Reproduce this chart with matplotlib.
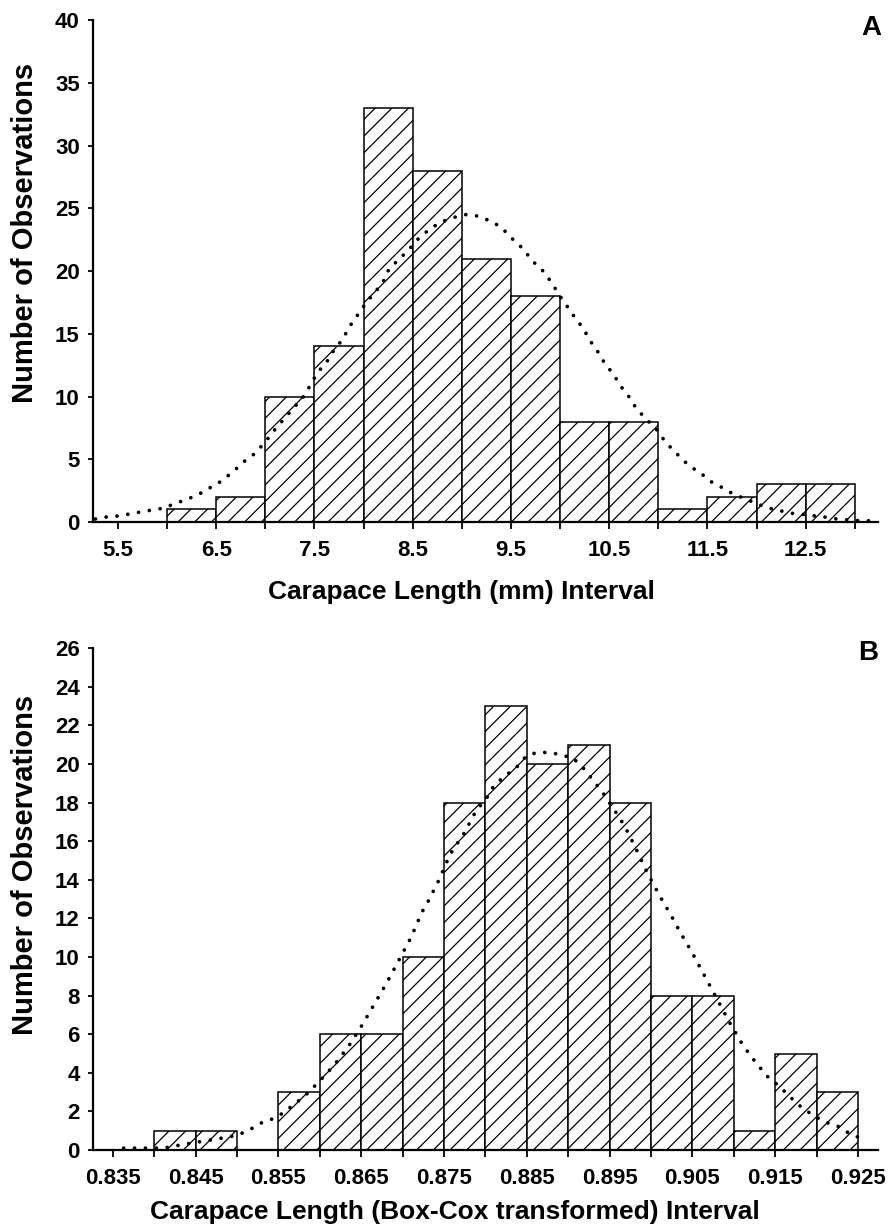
import matplotlib.pyplot as plt
from matplotlib.ticker import MultipleLocator, FixedLocator

plt.rcParams['font.family'] = ['Liberation Sans', 'DejaVu Sans']
plt.rcParams['font.weight'] = 'bold'
plt.rcParams['hatch.linewidth'] = 0.9
plt.rcParams['hatch.color'] = '#333333'

# Panel A - carapace length (mm), 0.5 mm classes
a_left = [6.0, 6.5, 7.0, 7.5, 8.0, 8.5, 9.0, 9.5, 10.0, 10.5, 11.0, 11.5, 12.0, 12.5]
a_counts = [1, 2, 10, 14, 33, 28, 21, 18, 8, 8, 1, 2, 3, 3]
a_ticklabels = ['5.5', '6.5', '7.5', '8.5', '9.5', '10.5', '11.5', '12.5']
# fitted normal curve
a_curve_x = [5.27, 5.38, 5.5, 5.62, 5.73, 5.85, 5.96, 6.09, 6.2, 6.32, 6.43, 6.54, 6.67,
             6.78, 6.9, 7.01, 7.1, 7.2, 7.3, 7.4, 7.47, 7.54, 7.62, 7.69, 7.79, 7.85,
             7.93, 8.01, 8.1, 8.19, 8.26, 8.37, 8.47, 8.57, 8.7, 8.82, 8.93, 9.04, 9.15,
             9.29, 9.4, 9.51, 9.62, 9.72, 9.84, 9.92, 9.99, 10.08, 10.15, 10.23, 10.31,
             10.39, 10.45, 10.54, 10.62, 10.7, 10.78, 10.89, 10.99, 11.07, 11.18, 11.31,
             11.43, 11.54, 11.66, 11.77, 11.9, 12.02, 12.13, 12.24, 12.35, 12.48, 12.58,
             12.69, 12.82, 12.94, 13.07, 13.17]
a_curve_y = [0.24, 0.4, 0.48, 0.64, 0.8, 0.96, 1.1, 1.5, 1.8, 2.2, 2.7, 3.2, 4.0,
             4.8, 5.5, 6.5, 7.4, 8.3, 9.2, 10.1, 11.1, 12.0, 12.7, 13.6, 14.6, 15.5,
             16.4, 17.3, 18.2, 19.0, 20.2, 21.0, 21.8, 22.7, 23.5, 24.0, 24.3, 24.5, 24.4,
             24.0, 23.5, 22.6, 21.8, 20.8, 19.9, 19.0, 18.1, 17.1, 16.3, 15.5, 14.4,
             13.5, 12.7, 11.8, 10.8, 10.0, 9.0, 8.1, 7.3, 6.4, 5.5, 4.5,
             3.9, 3.2, 2.7, 2.2, 1.8, 1.4, 1.1, 0.9, 0.7, 0.6, 0.5,
             0.4, 0.24, 0.16, 0.1, 0.1]

# Panel B - Box-Cox transformed carapace length, 0.005 classes
b_left = [0.840, 0.845, 0.850, 0.855, 0.860, 0.865, 0.870, 0.875, 0.880, 0.885,
          0.890, 0.895, 0.900, 0.905, 0.910, 0.915, 0.920]
b_counts = [1, 1, 0, 3, 6, 6, 10, 18, 23, 20, 21, 18, 8, 8, 1, 5, 3]
b_ticklabels = ['0.835', '0.845', '0.855', '0.865', '0.875', '0.885', '0.895',
                '0.905', '0.915', '0.925']
b_curve_x = [0.8363, 0.8377, 0.8391, 0.8404, 0.8419, 0.8431, 0.8445, 0.8461, 0.8473,
             0.8485, 0.8499, 0.8513, 0.8529, 0.8542, 0.8555, 0.857, 0.8583, 0.8598,
             0.8609, 0.8621, 0.8635, 0.865, 0.8665, 0.868, 0.8695, 0.871, 0.8723,
             0.8731, 0.8744, 0.8757, 0.8774, 0.8789, 0.8801, 0.8809, 0.8821, 0.8837,
             0.8849, 0.8862, 0.8877, 0.8889, 0.8906, 0.8918, 0.8931, 0.8942, 0.8959,
             0.8968, 0.8982, 0.8995, 0.901, 0.9025, 0.9035, 0.905, 0.9065, 0.908,
             0.9095, 0.911, 0.912, 0.913, 0.9141, 0.9155, 0.9168, 0.9182, 0.9196,
             0.921, 0.9225, 0.9237, 0.925]
b_curve_y = [0.1, 0.1, 0.1, 0.1, 0.15, 0.26, 0.36, 0.47, 0.55, 0.65, 0.75, 1.0, 1.4,
             1.6, 1.9, 2.4, 2.85, 3.5, 4.0, 4.6, 5.4, 6.4, 7.5, 8.6, 9.8, 11.0, 12.3,
             12.9, 14.0, 15.3, 16.4, 17.6, 18.2, 18.8, 19.3, 19.8, 20.4, 20.6, 20.6,
             20.5, 20.3, 19.8, 19.1, 18.5, 17.4, 16.8, 15.6, 14.4, 13.2, 12.1, 11.3,
             10.2, 9.0, 7.8, 6.6, 5.5, 4.9, 4.35, 3.8, 3.3, 2.75, 2.2, 1.8, 1.45,
             1.25, 0.93, 0.67]


def panel(ax, left, counts, width, cx, cy, xlim, ymax, ystep, tick0, ticklabels,
          xlabel, xlab_pos, ylab_pos, letter, letter_pos):
    ax.bar(left, counts, width=width, align='edge', facecolor='white',
           edgecolor='black', linewidth=1.1, hatch='//', zorder=2)
    ax.plot(cx, cy, color='black', lw=2.7, linestyle=(0, (0.01, 2.9)),
            dash_capstyle='round', zorder=3)
    ax.set_xlim(*xlim)
    ax.set_ylim(0, ymax)
    for s in ['top', 'right']:
        ax.spines[s].set_visible(False)
    for s in ['left', 'bottom']:
        ax.spines[s].set_linewidth(1.6)
    ax.yaxis.set_major_locator(MultipleLocator(ystep))
    major = [tick0 + 2 * i * width for i in range(len(ticklabels))]
    minor = [tick0 + (2 * i + 1) * width for i in range(len(ticklabels))]
    ax.xaxis.set_major_locator(FixedLocator(major))
    ax.xaxis.set_minor_locator(FixedLocator(minor))
    ax.set_xticklabels(ticklabels)
    ax.tick_params(axis='x', which='both', direction='out', length=5, width=1.3, pad=8,
                   labelsize=16)
    ax.tick_params(axis='y', direction='out', length=3.5, width=1.3, pad=6, labelsize=16)
    ax.set_xlabel(xlabel, fontsize=19, fontweight='bold')
    ax.xaxis.set_label_coords(*xlab_pos)
    ax.set_ylabel('Number of Observations', fontsize=21, fontweight='bold')
    ax.yaxis.set_label_coords(*ylab_pos)
    ax.text(letter_pos[0], letter_pos[1], letter, transform=ax.transAxes, ha='center',
            va='center', fontsize=20, fontweight='bold')


fig = plt.figure(figsize=(8.93, 12.3), dpi=100)
ax0 = fig.add_axes([0.1041, 0.5756, 0.879, 0.408])
ax1 = fig.add_axes([0.1041, 0.065, 0.879, 0.408])

panel(ax0, a_left, a_counts, 0.5, a_curve_x, a_curve_y, (5.245, 13.235), 40, 5, 5.5,
      a_ticklabels, 'Carapace Length (mm) Interval', (0.469, -0.115), (-0.069, 0.576),
      'A', (0.991, 0.985))
panel(ax1, b_left, b_counts, 0.005, b_curve_x, b_curve_y, (0.8326, 0.9274), 26, 2, 0.835,
      b_ticklabels, 'Carapace Length (Box-Cox transformed) Interval', (0.461, -0.1),
      (-0.069, 0.568), 'B', (0.987, 0.99))

fig.savefig('out.png', dpi=100)
